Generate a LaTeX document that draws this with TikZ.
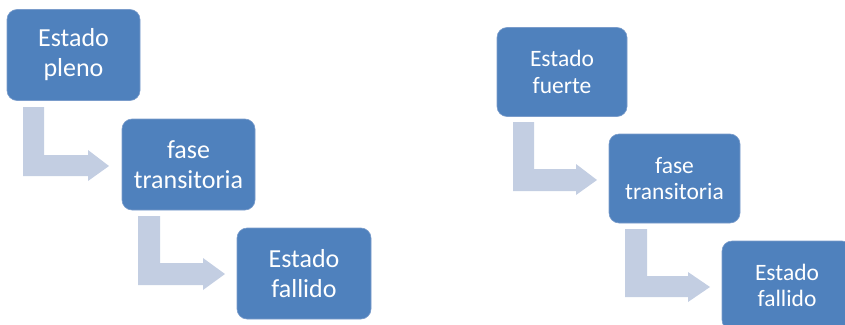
\documentclass[tikz,border=0pt]{standalone}
\usepackage{fontspec}
\setmainfont{Carlito}
\definecolor{boxblue}{HTML}{4F81BD}
\definecolor{boxedge}{HTML}{7A9CCB}
\definecolor{arrowgray}{HTML}{C3CEE2}
\begin{document}
\begin{tikzpicture}[x=1pt,y=-1pt,
  statebox/.style={rectangle, rounded corners=10pt, fill=boxblue, draw=boxedge, line width=0.6pt,
    text=white, align=center, inner sep=0pt},
  bigbox/.style={statebox, minimum width=133pt, minimum height=91pt, font=\fontsize{26}{30}\selectfont},
  smallbox/.style={statebox, minimum width=130pt, minimum height=89pt, font=\fontsize{23.5}{26.5}\selectfont},
  bentarrow/.style={fill=arrowgray, draw=none}]
\useasboundingbox (0,0) rectangle (845,324);
\clip (0,0) rectangle (845,324);
% left diagram
\node[bigbox] (l1) at (73.5,55) {Estado\\pleno};
\node[bigbox] (l2) at (188.5,164.5) {fase\\transitoria};
\node[bigbox, minimum width=134pt] (l3) at (304,273.5) {Estado\\fallido};
\fill[bentarrow] (23,107) -- (44,107) -- (44,155) -- (88,155) -- (88,150) -- (109,166) -- (88,181) -- (88,176) -- (23,176) -- cycle;
\fill[bentarrow] (138,216) -- (160,216) -- (160,263) -- (203,263) -- (203,258) -- (225,274) -- (203,290) -- (203,285) -- (138,285) -- cycle;
% right diagram
\node[smallbox] (r1) at (562,72) {Estado\\fuerte};
\node[smallbox, minimum width=131pt] (r2) at (674.5,178.5) {fase\\transitoria};
\node[smallbox] (r3) at (787,285.5) {Estado\\fallido};
\fill[bentarrow] (513,122) -- (534,122) -- (534,169) -- (576,169) -- (576,164) -- (597,180) -- (576,195) -- (576,191) -- (513,191) -- cycle;
\fill[bentarrow] (625,229) -- (647,229) -- (647,276) -- (688,276) -- (688,272) -- (710,287) -- (688,302) -- (688,297) -- (625,297) -- cycle;
\end{tikzpicture}
\end{document}
